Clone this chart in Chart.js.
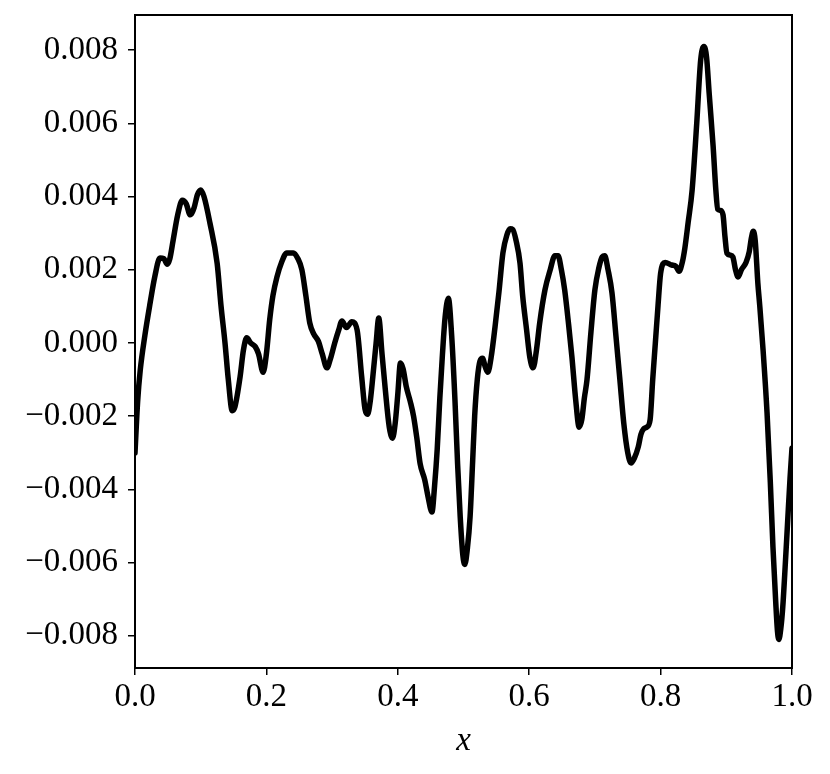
<!DOCTYPE html>
<html><head><meta charset="utf-8">
<script src="https://cdn.jsdelivr.net/npm/chart.js@4"></script>
<style>html,body{margin:0;padding:0;background:#fff}</style>
</head><body>
<canvas id="c" width="830" height="774" style="display:block;width:830px;height:774px"></canvas>
<script>
const xValues = [0.000,0.004,0.008,0.015,0.023,0.030,0.038,0.044,0.049,0.053,0.058,0.065,0.072,0.078,0.084,0.090,0.095,0.100,0.105,0.114,0.125,0.131,0.137,0.142,0.148,0.152,0.160,0.165,0.170,0.176,0.183,0.188,0.195,0.200,0.205,0.210,0.216,0.223,0.231,0.241,0.248,0.254,0.260,0.266,0.272,0.279,0.285,0.292,0.298,0.304,0.310,0.315,0.322,0.330,0.338,0.345,0.350,0.354,0.358,0.362,0.367,0.371,0.376,0.381,0.387,0.392,0.396,0.400,0.404,0.408,0.413,0.419,0.424,0.429,0.434,0.441,0.446,0.452,0.456,0.460,0.464,0.468,0.472,0.477,0.482,0.487,0.491,0.495,0.499,0.502,0.506,0.510,0.514,0.517,0.521,0.525,0.529,0.533,0.537,0.542,0.548,0.554,0.560,0.566,0.571,0.575,0.580,0.586,0.590,0.596,0.601,0.606,0.611,0.616,0.624,0.632,0.639,0.644,0.649,0.654,0.660,0.665,0.671,0.676,0.680,0.684,0.688,0.694,0.700,0.706,0.711,0.715,0.720,0.726,0.732,0.738,0.744,0.750,0.755,0.760,0.766,0.770,0.774,0.779,0.784,0.788,0.792,0.796,0.800,0.807,0.817,0.823,0.828,0.833,0.837,0.842,0.848,0.855,0.861,0.866,0.870,0.874,0.880,0.884,0.887,0.891,0.895,0.898,0.901,0.906,0.910,0.914,0.918,0.923,0.930,0.935,0.938,0.941,0.944,0.948,0.951,0.956,0.962,0.967,0.971,0.975,0.978,0.980,0.983,0.986,0.989,0.993,0.997,1.000];
const yValues = [-0.00300,-0.00160,-0.00074,0.00020,0.00109,0.00180,0.00232,0.00230,0.00215,0.00230,0.00280,0.00350,0.00390,0.00380,0.00350,0.00370,0.00405,0.00418,0.00400,0.00328,0.00218,0.00100,0.00000,-0.00100,-0.00185,-0.00175,-0.00092,-0.00020,0.00014,0.00000,-0.00010,-0.00030,-0.00080,-0.00030,0.00063,0.00130,0.00180,0.00220,0.00246,0.00246,0.00230,0.00200,0.00130,0.00055,0.00025,0.00005,-0.00030,-0.00068,-0.00040,0.00000,0.00035,0.00060,0.00042,0.00058,0.00036,-0.00092,-0.00180,-0.00195,-0.00160,-0.00092,0.00000,0.00068,-0.00030,-0.00128,-0.00230,-0.00260,-0.00220,-0.00140,-0.00055,-0.00070,-0.00120,-0.00160,-0.00200,-0.00260,-0.00330,-0.00374,-0.00420,-0.00462,-0.00390,-0.00290,-0.00150,-0.00030,0.00070,0.00122,0.00020,-0.00156,-0.00330,-0.00475,-0.00580,-0.00605,-0.00560,-0.00475,-0.00320,-0.00200,-0.00100,-0.00050,-0.00042,-0.00065,-0.00080,-0.00040,0.00044,0.00140,0.00246,0.00295,0.00312,0.00310,0.00280,0.00218,0.00130,0.00036,-0.00040,-0.00068,-0.00020,0.00055,0.00145,0.00200,0.00238,0.00238,0.00200,0.00145,0.00050,-0.00038,-0.00160,-0.00230,-0.00210,-0.00150,-0.00100,0.00030,0.00145,0.00205,0.00235,0.00238,0.00200,0.00137,0.00020,-0.00100,-0.00220,-0.00300,-0.00328,-0.00315,-0.00284,-0.00250,-0.00235,-0.00230,-0.00210,-0.00100,0.00000,0.00100,0.00190,0.00220,0.00213,0.00210,0.00196,0.00220,0.00260,0.00330,0.00418,0.00600,0.00773,0.00810,0.00780,0.00680,0.00536,0.00420,0.00365,0.00362,0.00350,0.00290,0.00245,0.00240,0.00235,0.00200,0.00180,0.00200,0.00220,0.00250,0.00285,0.00305,0.00280,0.00164,0.00100,-0.00020,-0.00190,-0.00380,-0.00557,-0.00700,-0.00790,-0.00810,-0.00780,-0.00720,-0.00630,-0.00500,-0.00370,-0.00287];
const xTicks = [0.0,0.2,0.4,0.6,0.8,1.0];
const yTicks = [-0.008,-0.006,-0.004,-0.002,0.000,0.002,0.004,0.006,0.008];
const xLabel = 'x';

const FAMILY = "'Liberation Serif','DejaVu Serif',serif";
const tickFont = {family: FAMILY, size: 33};

const framePlugin = {
  id: 'frame',
  afterDatasetsDraw(chart) {
    const a = chart.chartArea, ctx = chart.ctx;
    ctx.save();
    ctx.strokeStyle = '#000';
    ctx.lineWidth = 2;
    ctx.strokeRect(a.left, a.top, a.right - a.left, a.bottom - a.top);
    ctx.restore();
  }
};

new Chart(document.getElementById('c'), {
  type: 'line',
  data: {
    datasets: [{
      data: xValues.map((x, i) => ({x: x, y: yValues[i]})),
      borderColor: '#000',
      borderWidth: 5.5,
      pointRadius: 0,
      cubicInterpolationMode: 'monotone',
      borderCapStyle: 'round',
      borderJoinStyle: 'round',
      fill: false,
      clip: 0
    }]
  },
  options: {
    responsive: false,
    animation: false,
    devicePixelRatio: 1,
    layout: {padding: {top: 15, right: 38, left: 0, bottom: 0}},
    plugins: {legend: {display: false}, tooltip: {enabled: false}},
    scales: {
      x: {
        type: 'linear', min: 0, max: 1,
        afterBuildTicks: s => { s.ticks = xTicks.map(v => ({value: v})); },
        afterFit: s => { s.height = 106; s.paddingLeft = 0; s.paddingRight = 0; },
        ticks: {callback: v => Number(v).toFixed(1), font: tickFont, color: '#000', padding: 3, maxRotation: 0, autoSkip: false},
        grid: {drawOnChartArea: false, drawTicks: true, tickLength: 7, color: '#000', lineWidth: 1.5},
        border: {display: false},
        title: {display: true, text: xLabel, font: {family: FAMILY, size: 33, style: 'italic'}, color: '#000', padding: {top: 0, bottom: 13}}
      },
      y: {
        type: 'linear', min: -0.00888, max: 0.00896,
        afterBuildTicks: s => { s.ticks = yTicks.map(v => ({value: v})); },
        afterFit: s => { s.width = 135; s.paddingTop = 0; s.paddingBottom = 0; },
        ticks: {callback: v => (v < -1e-12 ? '\u2212' : '') + Math.abs(v).toFixed(3), font: tickFont, color: '#000', padding: 10, autoSkip: false},
        grid: {drawOnChartArea: false, drawTicks: true, tickLength: 7, color: '#000', lineWidth: 1.5},
        border: {display: false}
      }
    }
  },
  plugins: [framePlugin]
});
</script>
</body></html>
